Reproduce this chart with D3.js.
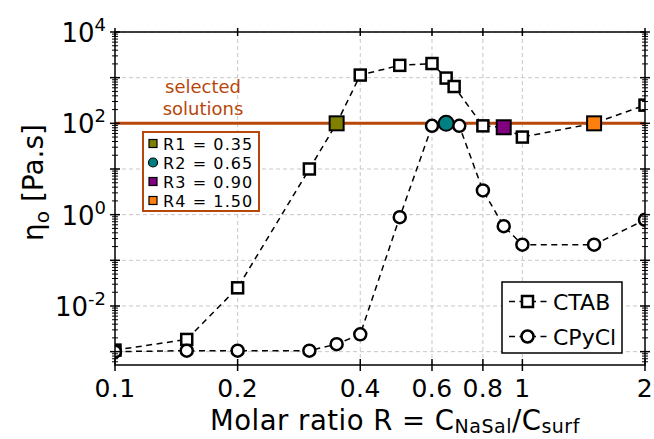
<!DOCTYPE html>
<html>
<meta charset='utf-8'>
<head>
<script src='https://d3js.org/d3.v7.min.js'></script>
<style>
body { margin: 0; background: white; }
text { font-family: 'DejaVu Sans', Verdana, sans-serif; }
</style>
</head>
<body>
<div id='chart'></div>
<script>
// CTAB and CPyCl zero-shear viscosity vs molar ratio
var ratioCTAB = [0.1, 0.15, 0.2, 0.3, 0.35, 0.4, 0.5, 0.6, 0.65, 0.68, 0.8, 0.9, 1, 1.5, 2]
var etaCTAB = [0.00108, 0.00185, 0.025, 10, 100, 1140, 1860, 2040, 980, 640, 88, 82, 50, 100, 250]
var ratioCPyCl = [0.1, 0.15, 0.2, 0.3, 0.35, 0.4, 0.5, 0.6, 0.65, 0.7, 0.8, 0.9, 1, 1.5, 2]
var etaCPyCl = [0.001, 0.00105, 0.00105, 0.00105, 0.00146, 0.0024, 0.88, 88, 100, 88, 3.4, 0.56, 0.22, 0.22, 0.77]

// selected solutions
var selNames = ['R1', 'R2', 'R3', 'R4']
var selRatio = [0.35, 0.65, 0.90, 1.50]
var selEta = [100, 100, 82, 100]
var selSeries = ['CTAB', 'CPyCl', 'CTAB', 'CTAB']
var selColors = ['#808000', '#008080', '#800080', '#ff7f0e']
var selLevel = 100

var xTicks = [0.1, 0.2, 0.4, 0.6, 0.8, 1, 2]
var xGrid = [0.2, 0.4, 0.6, 0.8, 1]
var yDecades = [1e-3, 1e-2, 1e-1, 1, 10, 100, 1e3, 1e4]
var yLabelExp = [-2, 0, 2, 4]

var lineColor = '#b8470b'

var margin = {top: 32, right: 9, bottom: 74, left: 115},
    width = 654 - margin.left - margin.right,
    height = 439 - margin.top - margin.bottom;

var svg = d3.select('#chart').append('svg')
    .attr('width', 654).attr('height', 439)
var g = svg.append('g')
    .attr('transform', 'translate(' + margin.left + ',' + margin.top + ')')

var x = d3.scaleLog().domain([0.1, 2]).range([0, width])
var y = d3.scaleLog().domain([5.1e-4, 1e4]).range([height, 0])

g.append('clipPath').attr('id', 'clip')
    .append('rect').attr('width', width).attr('height', height)

// grid
g.selectAll('.vgrid').data(xGrid).enter().append('line')
    .attr('x1', d => x(d)).attr('x2', d => x(d))
    .attr('y1', 0).attr('y2', height)
    .style('stroke', '#c8c8c8').style('stroke-dasharray', '4,3')
g.selectAll('.hgrid').data(yDecades).enter().append('line')
    .attr('x1', 0).attr('x2', width)
    .attr('y1', d => y(d)).attr('y2', d => y(d))
    .style('stroke', '#c8c8c8').style('stroke-dasharray', '4,3')

// selected level
g.append('line')
    .attr('x1', 0).attr('x2', width)
    .attr('y1', y(selLevel)).attr('y2', y(selLevel))
    .style('stroke', lineColor).style('stroke-width', 3)

g.append('text').attr('x', 88).attr('y', 61)
    .attr('text-anchor', 'middle').attr('font-size', 18).style('fill', lineColor)
    .text('selected')
g.append('text').attr('x', 88).attr('y', 82.5)
    .attr('text-anchor', 'middle').attr('font-size', 18).style('fill', lineColor)
    .text('solutions')

var plot = g.append('g').attr('clip-path', 'url(#clip)')

var line = d3.line().x(d => x(d[0])).y(d => y(d[1]))
var ctab = ratioCTAB.map((r, i) => [r, etaCTAB[i]])
var cpycl = ratioCPyCl.map((r, i) => [r, etaCPyCl[i]])

function isSel(r, s) {
    var i = selRatio.indexOf(r)
    return i >= 0 && selSeries[i] == s
}

;[ctab, cpycl].forEach(function(s) {
    plot.append('path').attr('d', line(s))
        .style('fill', 'none').style('stroke', 'black')
        .style('stroke-width', 1.5).style('stroke-dasharray', '6,4.5')
})

plot.selectAll('.sq').data(ctab.filter(d => !isSel(d[0], 'CTAB'))).enter().append('rect')
    .attr('x', d => x(d[0]) - 5.5).attr('y', d => y(d[1]) - 5.5)
    .attr('width', 11).attr('height', 11)
    .style('fill', 'white').style('stroke', 'black').style('stroke-width', 2.5)

plot.selectAll('.ci').data(cpycl.filter(d => !isSel(d[0], 'CPyCl'))).enter().append('circle')
    .attr('cx', d => x(d[0])).attr('cy', d => y(d[1])).attr('r', 6)
    .style('fill', 'white').style('stroke', 'black').style('stroke-width', 2.5)

selRatio.forEach(function(r, i) {
    if (selSeries[i] == 'CPyCl') {
        plot.append('circle').attr('cx', x(r)).attr('cy', y(selEta[i])).attr('r', 7.5)
            .style('fill', selColors[i]).style('stroke', 'black').style('stroke-width', 2)
    } else {
        plot.append('rect').attr('x', x(r) - 7).attr('y', y(selEta[i]) - 7)
            .attr('width', 14).attr('height', 14)
            .style('fill', selColors[i]).style('stroke', 'black').style('stroke-width', 2)
    }
})

// frame and ticks
g.append('rect').attr('width', width).attr('height', height)
    .style('fill', 'none').style('stroke', 'black').style('stroke-width', 1.5)

g.selectAll('.xtb').data(xTicks).enter().append('line')
    .attr('x1', d => x(d)).attr('x2', d => x(d))
    .attr('y1', height - 6).attr('y2', height + 6)
    .style('stroke', 'black').style('stroke-width', 1.5)
g.selectAll('.xtt').data(xTicks).enter().append('line')
    .attr('x1', d => x(d)).attr('x2', d => x(d))
    .attr('y1', -4).attr('y2', 4)
    .style('stroke', 'black').style('stroke-width', 1.5)

var yMinor = []
for (var e = -4; e < 4; e++) {
    for (var k = 2; k < 10; k++) {
        var v = k * Math.pow(10, e)
        if (v > y.domain()[0] && v < y.domain()[1]) yMinor.push(v)
    }
}
;[0, width].forEach(function(px) {
    g.selectAll('.ytM' + px).data(yDecades).enter().append('line')
        .attr('x1', px - 5).attr('x2', px + 5)
        .attr('y1', d => y(d)).attr('y2', d => y(d))
        .style('stroke', 'black').style('stroke-width', 1.5)
    g.selectAll('.ytm' + px).data(yMinor).enter().append('line')
        .attr('x1', px - 3).attr('x2', px + 3)
        .attr('y1', d => y(d)).attr('y2', d => y(d))
        .style('stroke', 'black').style('stroke-width', 1)
})

// tick labels
g.selectAll('.xl').data(xTicks).enter().append('text')
    .attr('x', d => x(d)).attr('y', height + 32)
    .attr('text-anchor', 'middle').attr('font-size', 25)
    .attr('letter-spacing', 0.4)
    .text(d => d)

var yl = g.selectAll('.yl').data(yLabelExp).enter().append('text')
    .attr('x', -9).attr('y', d => y(Math.pow(10, d)) + 10)
    .attr('text-anchor', 'end').attr('font-size', 26)
yl.append('tspan').text('10')
yl.append('tspan').attr('dy', -11).attr('font-size', 18).text(d => d)

// axis titles
var xt = svg.append('text').attr('x', 210).attr('y', 430)
    .attr('font-size', 27.5).attr('letter-spacing', 0.5)
xt.append('tspan').text('Molar ratio R = C')
xt.append('tspan').attr('font-size', 19).attr('dy', 3).text('NaSal')
xt.append('tspan').attr('dy', -3).text('/C')
xt.append('tspan').attr('font-size', 19).attr('dy', 3).text('surf')

var yt = svg.append('text')
    .attr('transform', 'translate(43,241) rotate(-90)')
    .attr('font-size', 28)
yt.append('tspan').text('\u03b7')
yt.append('tspan').attr('font-size', 20).attr('dy', 6).text('o')
yt.append('tspan').attr('dy', -6).text(' [Pa.s]')

// selected legend
var sl = g.append('g').attr('transform', 'translate(28,100)')
sl.append('rect').attr('width', 116).attr('height', 79)
    .style('fill', 'white').style('stroke', lineColor).style('stroke-width', 2)
selNames.forEach(function(n, i) {
    var cy = 11.5 + i * 19
    if (selSeries[i] == 'CPyCl') {
        sl.append('circle').attr('cx', 10).attr('cy', cy).attr('r', 4.5)
            .style('fill', selColors[i]).style('stroke', 'black').style('stroke-width', 1.2)
    } else {
        sl.append('rect').attr('x', 6).attr('y', cy - 4).attr('width', 8).attr('height', 8)
            .style('fill', selColors[i]).style('stroke', 'black').style('stroke-width', 1.2)
    }
    sl.append('text').attr('x', 20).attr('y', cy + 6).attr('font-size', 16)
        .attr('letter-spacing', 1.1)
        .text(n + ' = ' + selRatio[i].toFixed(2))
})

// series legend
var lg = g.append('g').attr('transform', 'translate(387,250)')
lg.append('rect').attr('width', 120).attr('height', 71)
    .style('fill', 'white').style('stroke', 'black').style('stroke-width', 1.5)
;['CTAB', 'CPyCl'].forEach(function(n, i) {
    var cy = 19.5 + i * 35
    lg.append('line').attr('x1', 6).attr('x2', 45).attr('y1', cy).attr('y2', cy)
        .style('stroke', 'black').style('stroke-width', 1.5).style('stroke-dasharray', '6,4.5')
        .style('stroke-dashoffset', -1)
    if (i == 0) {
        lg.append('rect').attr('x', 20).attr('y', cy - 5.5).attr('width', 11).attr('height', 11)
            .style('fill', 'white').style('stroke', 'black').style('stroke-width', 2.5)
    } else {
        lg.append('circle').attr('cx', 25.5).attr('cy', cy).attr('r', 6)
            .style('fill', 'white').style('stroke', 'black').style('stroke-width', 2.5)
    }
    lg.append('text').attr('x', 51).attr('y', cy + 8).attr('font-size', 22).text(n)
})
</script>
</body>
</html>
